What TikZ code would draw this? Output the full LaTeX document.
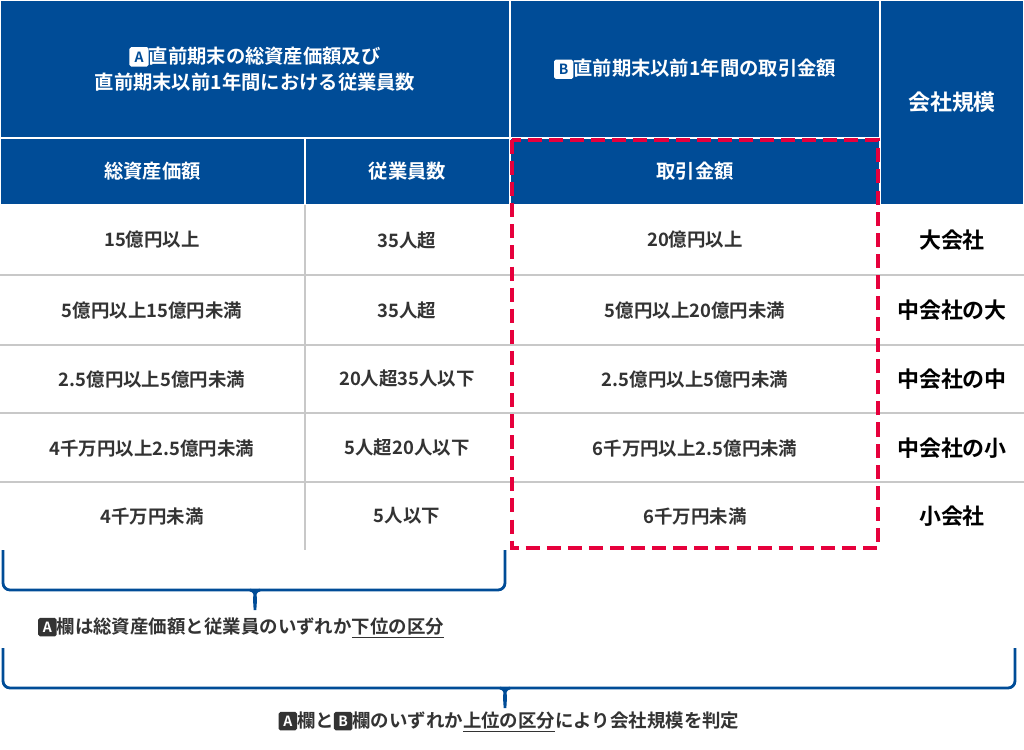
\documentclass[tikz,border=0pt]{standalone}
\usepackage{fontspec}
\setmainfont{Noto Sans CJK JP}
\newfontfamily\jpbold{Noto Sans CJK JP Bold}
\definecolor{headblue}{RGB}{0,76,151}
\definecolor{gridgray}{RGB}{200,200,200}
\definecolor{dashred}{RGB}{230,0,60}
\definecolor{textgray}{RGB}{51,51,51}
\newcommand{\keyW}[1]{\tikz[baseline=-0.6ex]\node[fill=white,text=headblue,rounded corners=1pt,inner sep=0.5pt,minimum size=11pt,font=\jpbold\footnotesize]{#1};}
\newcommand{\keyD}[1]{\tikz[baseline=-0.6ex]\node[fill=textgray,text=white,rounded corners=1pt,inner sep=0.5pt,minimum size=10.5pt,font=\jpbold\footnotesize]{#1};}
\tikzset{
  headcell/.style={fill=headblue,draw=white,line width=1pt},
  headtext/.style={text=white,font=\jpbold\fontsize{11}{15}\selectfont,align=center},
  celltext/.style={text=textgray,font=\jpbold\fontsize{10.5}{12}\selectfont},
  sizetext/.style={text=black,font=\jpbold\fontsize{12.5}{14}\selectfont},
  gridline/.style={draw=gridgray,line width=0.6pt},
  bluebrace/.style={draw=headblue,line width=1.6pt,rounded corners=4pt}
}
\begin{document}
\begin{tikzpicture}[x=0.02cm,y=-0.02cm]
\useasboundingbox (0,0) rectangle (1024,750);

% header
\draw[headcell] (0,0) rectangle node[headtext] (hA) {\keyW{A}直前期末の総資産価額及び\\直前期末以前1年間における従業員数} (510,138);
\draw[headcell] (510,0) rectangle node[headtext] (hB) {\keyW{B}直前期末以前1年間の取引金額} (880,138);
\draw[headcell] (880,0) rectangle node[headtext,font=\jpbold\fontsize{12.5}{14}\selectfont] (hsize) {会社規模} (1024,205);
\draw[headcell] (0,138) rectangle node[headtext] (h1) {総資産価額} (305,205);
\draw[headcell] (305,138) rectangle node[headtext] (h2) {従業員数} (510,205);
\draw[headcell] (510,138) rectangle node[headtext] (h3) {取引金額} (880,205);

% grid
\foreach \y in {275,345,413,482} \draw[gridline] (0,\y) -- (1024,\y);
\draw[gridline] (305,205) -- (305,550);

% rows
\foreach \y/\a/\b/\c/\d [count=\i] in {
  240/15億円以上/35人超/20億円以上/大会社,
  310/5億円以上15億円未満/35人超/5億円以上20億円未満/中会社の大,
  379/2.5億円以上5億円未満/20人超35人以下/2.5億円以上5億円未満/中会社の中,
  448/4千万円以上2.5億円未満/5人超20人以下/6千万円以上2.5億円未満/中会社の小,
  516/4千万円未満/5人以下/6千万円未満/小会社}{
  \node[celltext] (asset\i) at (152,\y) {\a};
  \node[celltext] (staff\i) at (407,\y) {\b};
  \node[celltext] (deal\i) at (695,\y) {\c};
  \node[sizetext] (size\i) at (952,\y) {\d};
}

% dashed frame
\draw[dashred,line width=2.5pt,dash pattern=on 8pt off 4pt] (512,140) rectangle (878,548);

% braces
\draw[bluebrace] (3,550) -- (3,590) -- (505,590) -- (505,550);
\draw[draw=headblue,line width=1.6pt] (250,590) to[out=-10,in=90] (255,610) to[out=90,in=190] (260,590);
\node[celltext,anchor=west] (noteA) at (32,628) {\keyD{A}欄は総資産価額と従業員のいずれか\underline{下位の区分}};
\draw[bluebrace] (3,648) -- (3,688) -- (1015,688) -- (1015,648);
\draw[draw=headblue,line width=1.6pt] (500,688) to[out=-10,in=90] (505,708) to[out=90,in=190] (510,688);
\node[celltext] (noteAB) at (509,722) {\keyD{A}欄と\keyD{B}欄のいずれか\underline{上位の区分}により会社規模を判定};
\end{tikzpicture}
\end{document}
